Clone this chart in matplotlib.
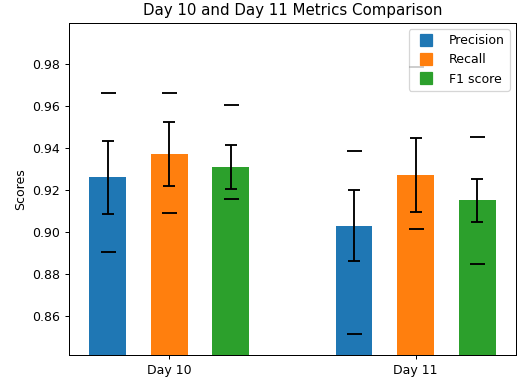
import matplotlib.pyplot as plt
from matplotlib.lines import Line2D
import numpy as np

days = ['Day 10', 'Day 11']
metrics = ['Precision', 'Recall', 'F1 score']
colors = ['tab:blue', 'tab:orange', 'tab:green']

# mean scores per metric (Day 10, Day 11)
means = {
    'Precision': [0.926, 0.903],
    'Recall': [0.937, 0.927],
    'F1 score': [0.931, 0.915],
}
# standard deviation
stds = {
    'Precision': [0.0173, 0.0169],
    'Recall': [0.0152, 0.0177],
    'F1 score': [0.0105, 0.0103],
}
# min / max of runs
mins = {
    'Precision': [0.8905, 0.8514],
    'Recall': [0.9089, 0.9016],
    'F1 score': [0.9157, 0.8849],
}
maxs = {
    'Precision': [0.9660, 0.9386],
    'Recall': [0.9660, 0.9787],
    'F1 score': [0.9605, 0.9451],
}

x = np.arange(len(days))
width = 0.15
offsets = [-0.25, 0, 0.25]

fig, ax = plt.subplots(figsize=(518 / 90, 383 / 90), dpi=90)

for m, c, off in zip(metrics, colors, offsets):
    ax.bar(x + off, means[m], width, yerr=stds[m], capsize=5, color=c,
           error_kw=dict(elinewidth=1.5, capthick=1.5))
    ax.plot(x + off, mins[m], linestyle='', marker='_', color='black', markersize=12, mew=1.5)
    ax.plot(x + off, maxs[m], linestyle='', marker='_', color='black', markersize=12, mew=1.5)

handles = [Line2D([], [], linestyle='', marker='s', markersize=9.5, color=c) for c in colors]
ax.legend(handles, metrics, loc='upper right')

ax.set_xticks(x)
ax.set_xticklabels(days)
ax.set_ylabel('Scores')
ax.set_title('Day 10 and Day 11 Metrics Comparison')
ax.set_ylim(0.8414, 0.9995)

fig.subplots_adjust(left=0.1332, right=0.996, top=0.94, bottom=0.0731)
plt.savefig('out.png', facecolor='white')
